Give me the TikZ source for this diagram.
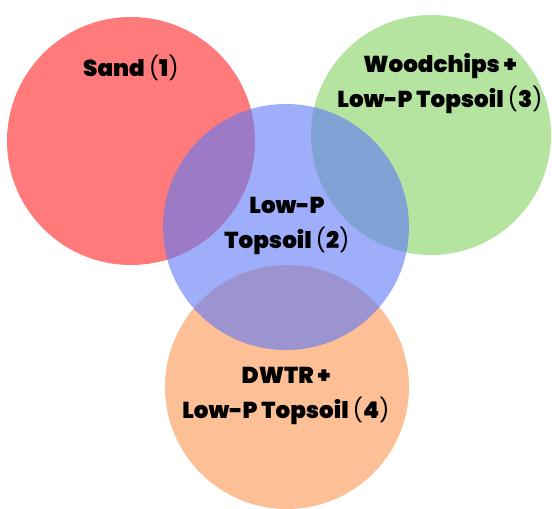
\documentclass[tikz,border=0pt]{standalone}
\usepackage{fontspec}
\setmainfont{Poppins}[BoldFont={Poppins Black}]
\usepackage{tikz}
\definecolor{sandred}{HTML}{FF7B7B}
\definecolor{woodgreen}{HTML}{B5E3A0}
\definecolor{dwtrorange}{HTML}{FCBF96}
\definecolor{soilblue}{HTML}{607AF7}
\tikzset{
  venn/.style={circle, inner sep=0pt, minimum size=#1},
  lbl/.style={align=center, font=\fontsize{23}{35}\selectfont\bfseries},
}
\newcommand\pn[1]{{\mdseries(}#1{\mdseries)}}

\begin{document}
\begin{tikzpicture}[x=1pt, y=-1pt]

  \useasboundingbox (0,0) rectangle (552,509);

  % circles, blue one last and see-through
  \node[venn=248pt, fill=sandred]   (sand)  at (131,141) {};
  \node[venn=240pt, fill=woodgreen] (wood)  at (431,135) {};
  \node[venn=244pt, fill=dwtrorange](dwtr)  at (287,387) {};
  \node[venn=246pt, fill=soilblue, fill opacity=0.61] (soil) at (286,227) {};

  % labels
  \node[lbl] (sandlbl) at (131,68)  {Sand \pn{1}};
  \node[lbl] (woodlbl) at (440,84)  {Woodchips +\\Low-P Topsoil \pn{3}};
  \node[lbl] (soillbl) at (287,226) {Low-P\\Topsoil \pn{2}};
  \node[lbl] (dwtrlbl) at (286,396) {DWTR +\\Low-P Topsoil \pn{4}};

\end{tikzpicture}
\end{document}
